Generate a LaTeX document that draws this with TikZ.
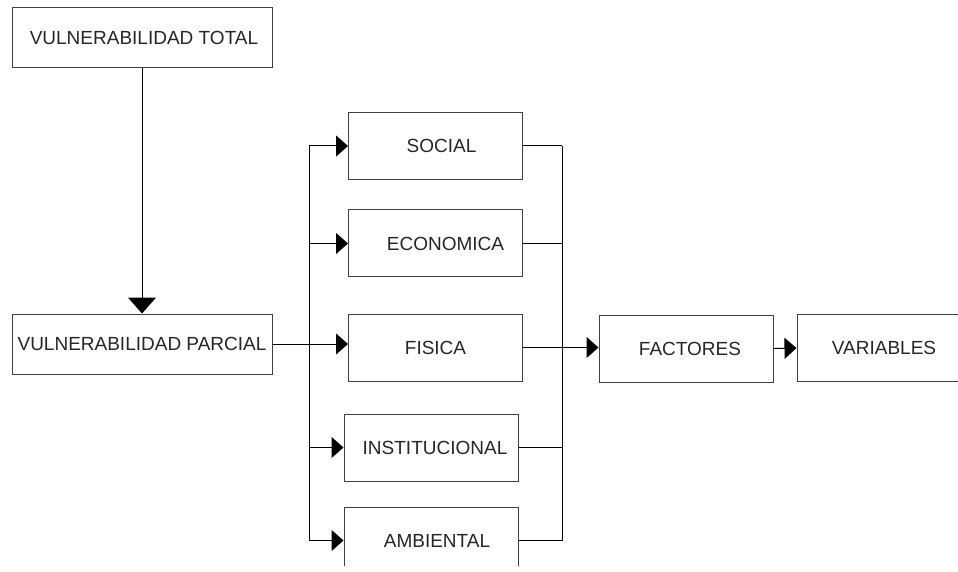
\documentclass[tikz,border=0pt]{standalone}
\usepackage{fontspec}
\setmainfont{Liberation Sans}
\usepackage{tikz}
\usetikzlibrary{arrows.meta, positioning}

\begin{document}
\begin{tikzpicture}[
  x=0.5pt, y=-0.5pt,
  font=\fontsize{9.5}{11}\selectfont,
  box/.style={
    draw=black!75,
    line width=0.5pt,
    text=black!85,
    minimum width=87pt,
    minimum height=33.5pt,
    align=center,
    inner sep=0pt
  },
  widebox/.style={
    box,
    minimum width=130pt,
    minimum height=30pt
  },
  link/.style={
    draw=black,
    line width=0.5pt
  },
  arr/.style={
    link,
    -{Triangle[length=6pt, width=10.5pt]}
  },
  downarr/.style={
    link,
    -{Triangle[length=8pt, width=14pt]}
  }
]

% Frame
\useasboundingbox (0,0) rectangle (958,572);
\clip (0,0) rectangle (958,565);

% Left column
\node[widebox] (total) at (142,37.5) {\hspace{2pt}VULNERABILIDAD TOTAL};
\node[widebox] (parcial) at (142,344) {VULNERABILIDAD PARCIAL};

% Middle column
\node[box] (social) at (435.5,146) {\hspace{6pt}SOCIAL};
\node[box] (economica) at (435.5,243.5) {\hspace{10pt}ECONOMICA};
\node[box] (fisica) at (435.5,347.5) {FISICA};
\node[box] (institucional) at (431,447.5) {\hspace{4pt}INSTITUCIONAL};
\node[box] (ambiental) at (431,540.5) {\hspace{6pt}AMBIENTAL};

% Right side
\node[box] (factores) at (686,348.5) {\hspace{4pt}FACTORES};
\node[box] (variables) at (884,348) {VARIABLES};

% Bus lines
\coordinate (busl) at (309,0);
\coordinate (busr) at (562,0);

% Connectors
\draw[downarr] (total.south) -- (parcial.north);
\draw[arr] (parcial.east) -- (parcial.east -| fisica.west);

\draw[link] (busl |- social.west) -- (busl |- ambiental.west);
\foreach \n in {social,economica,institucional,ambiental}
  \draw[arr] (busl |- \n.west) -- (\n.west);

\draw[link] (busr |- social.east) -- (busr |- ambiental.east);
\foreach \n in {social,economica,institucional,ambiental}
  \draw[link] (\n.east) -- (busr |- \n.east);

\draw[arr] (fisica.east) -- (fisica.east -| factores.west);
\draw[arr] (factores.east) -- (variables.west);

\end{tikzpicture}
\end{document}
